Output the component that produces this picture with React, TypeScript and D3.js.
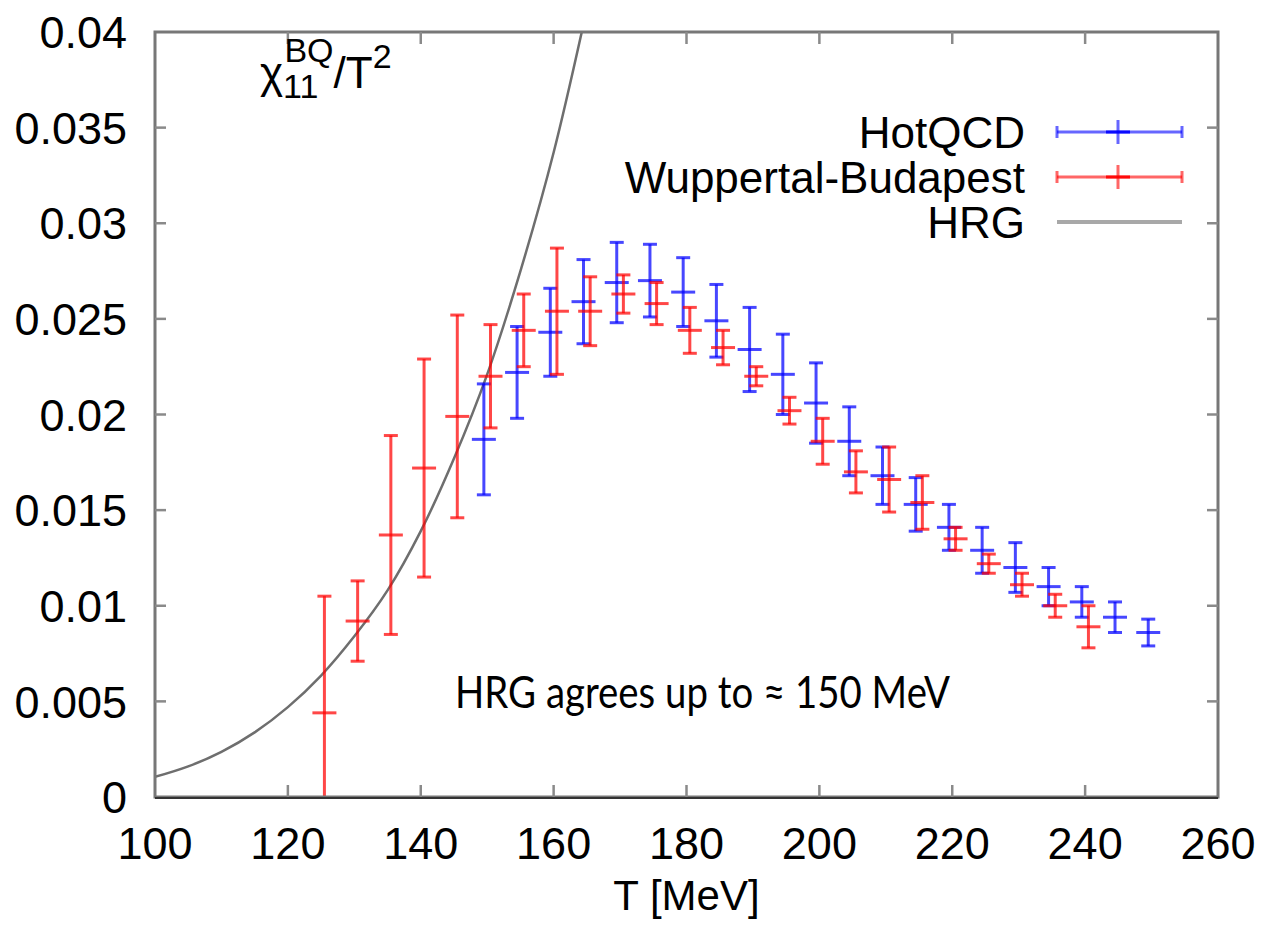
import React from "react";
import * as d3 from "d3";

const xTicks = [100, 120, 140, 160, 180, 200, 220, 240, 260];
const yTicks = [0, 0.005, 0.01, 0.015, 0.02, 0.025, 0.03, 0.035, 0.04];
const yTickLabels = ["0", "0.005", "0.01", "0.015", "0.02", "0.025", "0.03", "0.035", "0.04"];

// HotQCD (blue)
const hotT = [149.5, 154.5, 159.5, 164.5, 169.5, 174.5, 179.5, 184.5, 189.5, 194.5, 199.5,
  204.5, 209.5, 214.5, 219.5, 224.5, 229.5, 234.5, 239.5, 244.5, 249.5];
const hotVal = [0.0187, 0.0222, 0.0243, 0.0259, 0.0269, 0.027, 0.0264, 0.0249, 0.0234, 0.0221, 0.0206,
  0.0186, 0.0168, 0.0153, 0.0141, 0.0129, 0.012, 0.011, 0.0102, 0.0094, 0.0086];
const hotErr = [0.0029, 0.0024, 0.0023, 0.0022, 0.0021, 0.0019, 0.0018, 0.0019, 0.0022, 0.0021, 0.0021,
  0.0018, 0.0015, 0.0014, 0.0012, 0.0012, 0.0013, 0.001, 0.0008, 0.0008, 0.0007];

// Wuppertal-Budapest (red)
const wbT = [125.5, 130.5, 135.5, 140.5, 145.5, 150.5, 155.5, 160.5, 165.5, 170.5, 175.5, 180.5,
  185.5, 190.5, 195.5, 200.5, 205.5, 210.5, 215.5, 220.5, 225.5, 230.5, 235.5, 240.5];
const wbVal = [0.0044, 0.0092, 0.0137, 0.0172, 0.0199, 0.022, 0.0244, 0.0254, 0.0254, 0.0263, 0.0258, 0.0244,
  0.0235, 0.022, 0.0202, 0.0186, 0.017, 0.0166, 0.0154, 0.0135, 0.0122, 0.0111, 0.01, 0.0089];
const wbErr = [0.0061, 0.0021, 0.0052, 0.0057, 0.0053, 0.0027, 0.0019, 0.0033, 0.0018, 0.001, 0.0011, 0.0012,
  0.0009, 0.0005, 0.0007, 0.0012, 0.0011, 0.0017, 0.0014, 0.0006, 0.0005, 0.0006, 0.0006, 0.0011];

// HRG curve
const hrgT = [100, 105, 110, 115, 120, 125, 130, 135, 140, 145, 150, 155, 160, 165];
const hrgVal = [0.00105, 0.0016, 0.00236, 0.00338, 0.0047, 0.00635, 0.0084, 0.0108, 0.0139, 0.0177,
  0.0221, 0.0275, 0.0337, 0.0412];

const legendNames = ["HotQCD", "Wuppertal-Budapest", "HRG"];

const W = 1266, H = 936;
const left = 155, right = 1218, top = 32, bottom = 797;
const font = "'Liberation Sans', Arial, sans-serif";

function ErrBar({ cx, cy, y0, y1, color }) {
  const cap = 7, half = 12;
  return (
    <g stroke={color} strokeWidth={3} strokeOpacity={0.72} fill="none">
      <line x1={cx} x2={cx} y1={y0} y2={y1} />
      {y0 < bottom && <line x1={cx - cap} x2={cx + cap} y1={y0} y2={y0} />}
      {y1 > top && <line x1={cx - cap} x2={cx + cap} y1={y1} y2={y1} />}
      <line x1={cx - half} x2={cx + half} y1={cy} y2={cy} />
    </g>
  );
}

export default function App() {
  const x = d3.scaleLinear().domain([100, 260]).range([left, right]);
  const y = d3.scaleLinear().domain([0, 0.04]).range([bottom, top]);
  const clampY = (v) => Math.max(top, Math.min(bottom, v));

  const hrgLine = d3
    .line()
    .x((d) => x(d[0]))
    .y((d) => y(d[1]))
    .curve(d3.curveCatmullRom);
  const hrgPath = hrgLine(hrgT.map((t, i) => [t, hrgVal[i]]));

  const colors = ["#0000ff", "#ff0000"];
  const legendY = [132, 177, 222];
  const lx0 = 1057, lx1 = 1182, lxc = 1118;

  return (
    <svg width={W} height={H} style={{ position: "absolute", left: 0, top: 0, background: "#fff" }}>
      <defs>
        <clipPath id="plot">
          <rect x={left} y={top} width={right - left} height={bottom - top} />
        </clipPath>
      </defs>

      {/* HRG curve */}
      <path d={hrgPath} fill="none" stroke="#6e6e6e" strokeWidth={2.5} clipPath="url(#plot)" />

      {/* data */}
      <g clipPath="url(#plot)">
        {hotT.map((t, i) => (
          <ErrBar key={"h" + i} cx={x(t)} cy={y(hotVal[i])}
            y0={clampY(y(hotVal[i] - hotErr[i]))} y1={clampY(y(hotVal[i] + hotErr[i]))} color={colors[0]} />
        ))}
        {wbT.map((t, i) => (
          <ErrBar key={"w" + i} cx={x(t)} cy={y(wbVal[i])}
            y0={clampY(y(wbVal[i] - wbErr[i]))} y1={clampY(y(wbVal[i] + wbErr[i]))} color={colors[1]} />
        ))}
      </g>

      {/* frame */}
      <rect x={left} y={top} width={right - left} height={bottom - top} fill="none" stroke="#777" strokeWidth={3} />
      <line x1={left} x2={right} y1={bottom + 1} y2={bottom + 1} stroke="#333" strokeWidth={2} />

      {/* ticks */}
      <g stroke="#8a8a8a" strokeWidth={2.5}>
        {yTicks.slice(1, -1).map((v) => (
          <g key={"yt" + v}>
            <line x1={left} x2={left + 11} y1={y(v)} y2={y(v)} />
            <line x1={right - 11} x2={right} y1={y(v)} y2={y(v)} />
          </g>
        ))}
        {xTicks.slice(1, -1).map((v) => (
          <g key={"xt" + v}>
            <line x1={x(v)} x2={x(v)} y1={bottom} y2={bottom - 12} />
            <line x1={x(v)} x2={x(v)} y1={top} y2={top + 12} />
          </g>
        ))}
      </g>

      {/* tick labels */}
      <g fontFamily={font} fontSize={45} fill="#000">
        {yTicks.map((v, i) => (
          <text key={"yl" + v} x={127} y={y(v)} dy="0.36em" textAnchor="end">{yTickLabels[i]}</text>
        ))}
        {xTicks.map((v) => (
          <text key={"xl" + v} x={x(v)} y={859} textAnchor="middle">{v}</text>
        ))}
        <text x={(left + right) / 2} y={910} textAnchor="middle" fontSize={42}>T [MeV]</text>
      </g>

      {/* y label */}
      <text fontFamily={font} fontSize={44} x={260} y={88} fill="#000">
        χ
        <tspan fontSize={34} dy={10}>11</tspan>
        <tspan fontSize={34} dx={-34} dy={-36}>BQ</tspan>
        <tspan dy={26}>/T</tspan>
        <tspan fontSize={34} dy={-20}>2</tspan>
      </text>

      {/* legend */}
      <g fontFamily={font} fontSize={44} fill="#000">
        {legendNames.map((n, i) => (
          <text key={n} x={1025} y={legendY[i]} dy="0.36em" textAnchor="end">{n}</text>
        ))}
      </g>
      {colors.map((c, i) => (
        <g key={c} stroke={c} strokeWidth={3} strokeOpacity={0.6}>
          <line x1={lx0} x2={lx1} y1={legendY[i]} y2={legendY[i]} />
          <line x1={lx0} x2={lx0} y1={legendY[i] - 6} y2={legendY[i] + 6} />
          <line x1={lx1} x2={lx1} y1={legendY[i] - 6} y2={legendY[i] + 6} />
          <line x1={lxc} x2={lxc} y1={legendY[i] - 12} y2={legendY[i] + 12} />
          <line x1={lxc - 12} x2={lxc + 12} y1={legendY[i]} y2={legendY[i]} strokeOpacity={0.9} />
        </g>
      ))}
      <line x1={lx0} x2={lx1} y1={legendY[2]} y2={legendY[2]} stroke="#a8a8a8" strokeWidth={4} />

      {/* annotation */}
      <text x={455} y={708} fontFamily="Lato, 'Open Sans', sans-serif" fontSize={44} fill="#000"
        textLength={495} lengthAdjust="spacingAndGlyphs">
        HRG agrees up to ≈ 150 MeV
      </text>
    </svg>
  );
}
